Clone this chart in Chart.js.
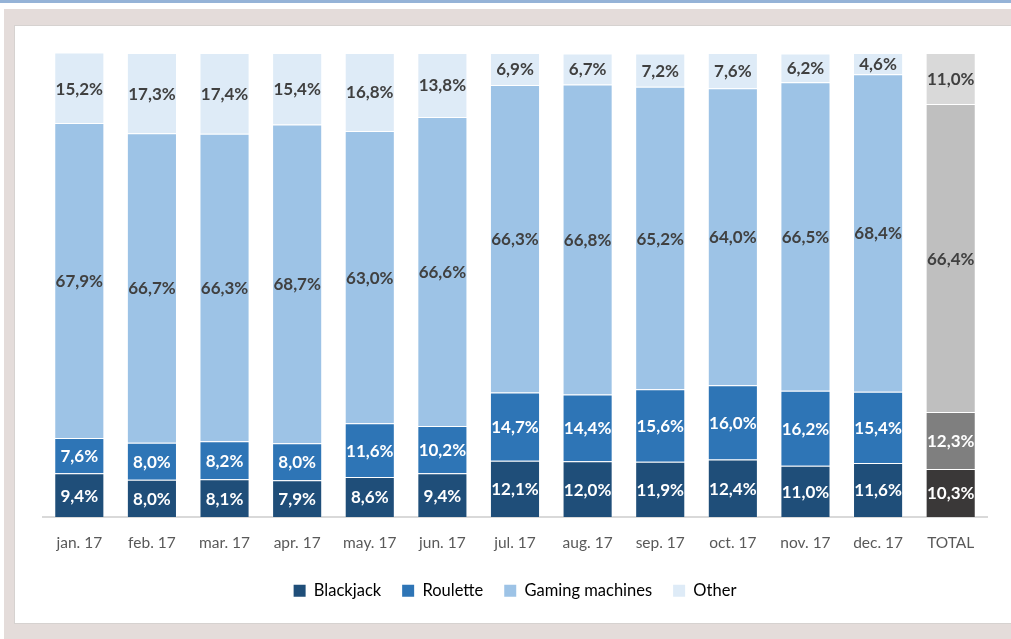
<!DOCTYPE html>
<html>
<head>
<meta charset="utf-8">
<script src="https://cdn.jsdelivr.net/npm/chart.js@4.4.1/dist/chart.umd.min.js"></script>
<style>
  html, body { margin: 0; padding: 0; background: #ffffff; }
  body { width: 1011px; height: 639px; position: relative; overflow: hidden; font-family: Lato, "Open Sans", sans-serif; }
  #topline { position: absolute; left: 0; top: 0; width: 1011px; height: 3px; background: #95b3d7; }
  #frame { position: absolute; left: 4px; top: 9px; right: -20px; bottom: 0; background: #e4dcda; }
  #panel { position: absolute; left: 14px; top: 25px; right: -20px; bottom: 15px; background: #ffffff; border: 1px solid #d6d2d0; }
  #wrap { position: absolute; left: 0; top: 0; width: 1011px; height: 639px; }
</style>
</head>
<body>
<div id="topline"></div>
<div id="frame"></div>
<div id="panel"></div>
<div id="wrap"><canvas id="c" width="1011" height="639"></canvas></div>
<script>
const months = ['jan. 17','feb. 17','mar. 17','apr. 17','may. 17','jun. 17','jul. 17','aug. 17','sep. 17','oct. 17','nov. 17','dec. 17','TOTAL'];
const blackjack = [9.4, 8.0, 8.1, 7.9, 8.6, 9.4, 12.1, 12.0, 11.9, 12.4, 11.0, 11.6, 10.3];
const roulette  = [7.6, 8.0, 8.2, 8.0, 11.6, 10.2, 14.7, 14.4, 15.6, 16.0, 16.2, 15.4, 12.3];
const gaming    = [67.9, 66.7, 66.3, 68.7, 63.0, 66.6, 66.3, 66.8, 65.2, 64.0, 66.5, 68.4, 66.4];
const other     = [15.2, 17.3, 17.4, 15.4, 16.8, 13.8, 6.9, 6.7, 7.2, 7.6, 6.2, 4.6, 11.0];

// monthly bars in blues, the TOTAL bar in greys
function colours(monthColour, totalColour) {
  return months.map(m => m === 'TOTAL' ? totalColour : monthColour);
}

const series = [
  { label: 'Blackjack',       data: blackjack, month: '#1f4e79', total: '#3a3838', text: '#ffffff' },
  { label: 'Roulette',        data: roulette,  month: '#2e75b6', total: '#7f7f7f', text: '#ffffff' },
  { label: 'Gaming machines', data: gaming,    month: '#9dc3e6', total: '#bfbfbf', text: '#404040' },
  { label: 'Other',           data: other,     month: '#deebf7', total: '#d9d9d9', text: '#404040' }
];

const fmt = v => v.toFixed(1).replace('.', ',') + '%';

// percentage written in the middle of every segment
const valueLabels = {
  id: 'valueLabels',
  afterDatasetsDraw(chart) {
    const ctx = chart.ctx;
    ctx.save();
    ctx.font = 'bold 17px Lato, "Open Sans", sans-serif';
    ctx.textAlign = 'center';
    ctx.textBaseline = 'middle';
    chart.data.datasets.forEach((ds, di) => {
      const meta = chart.getDatasetMeta(di);
      meta.data.forEach((bar, i) => {
        const top = Math.max(bar.y, chart.chartArea.top);
        const y = (top + bar.base) / 2;
        ctx.fillStyle = series[di].text;
        ctx.fillText(fmt(ds.data[i]), bar.x, y + 1);
      });
    });
    ctx.restore();
  }
};

new Chart(document.getElementById('c'), {
  type: 'bar',
  data: {
    labels: months,
    datasets: series.map(s => ({
      label: s.label,
      data: s.data,
      backgroundColor: colours(s.month, s.total),
      borderColor: 'rgba(255,255,255,0.3)',
      borderWidth: 1,
      categoryPercentage: 1,
      barPercentage: 0.69
    }))
  },
  options: {
    responsive: false,
    animation: false,
    devicePixelRatio: 1,
    layout: { padding: { left: 43, right: 24, top: 53, bottom: 30 } },
    scales: {
      x: {
        stacked: true,
        grid: { display: false },
        border: { color: '#d9d9d9', width: 2 },
        ticks: { color: '#595959', font: { family: 'Lato, "Open Sans", sans-serif', size: 15.5 }, padding: 9 }
      },
      y: {
        stacked: true,
        display: false,
        min: 0,
        max: 100
      }
    },
    plugins: {
      legend: {
        position: 'bottom',
        labels: {
          boxWidth: 12,
          boxHeight: 12,
          padding: 21,
          color: '#595959',
          font: { family: 'Lato, "Open Sans", sans-serif', size: 16.5 },
          generateLabels() {
            return series.map((s, i) => ({
              text: s.label,
              fillStyle: s.month,
              strokeStyle: s.month,
              lineWidth: 0,
              datasetIndex: i,
              hidden: false
            }));
          }
        }
      },
      tooltip: { enabled: false }
    }
  },
  plugins: [valueLabels]
});
</script>
</body>
</html>
